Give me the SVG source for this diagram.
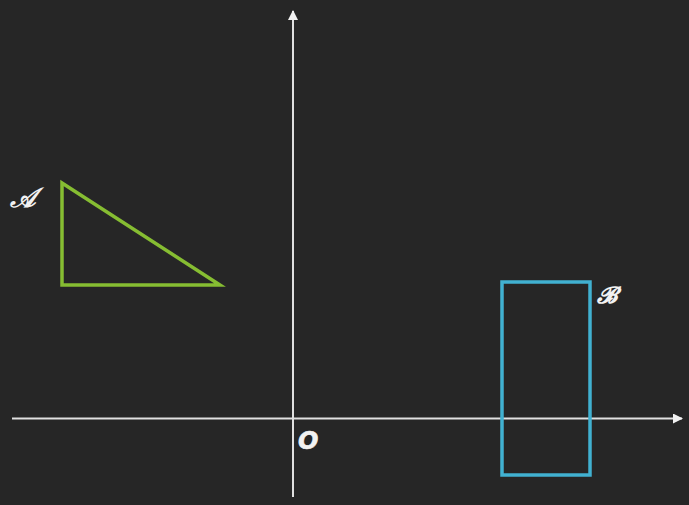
<svg xmlns="http://www.w3.org/2000/svg" width="689" height="505" viewBox="0 0 689 505">
<defs>
<style>
.axis{stroke:#e0e0e0;stroke-width:2;fill:none}
.lbl{fill:#f2f2f2;font-family:"DejaVu Serif","Liberation Serif",serif;font-style:italic;font-weight:bold}
.o{fill:#f2f2f2;font-family:"DejaVu Sans","Liberation Sans",sans-serif;font-style:italic}
</style>
<marker id="ah" viewBox="0 0 10 10" refX="9" refY="5" markerWidth="10" markerHeight="10" markerUnits="userSpaceOnUse" orient="auto">
<path d="M0,0 L10,5 L0,10 Z" fill="#f2f2f2"/>
</marker>
</defs>
<rect width="689" height="505" fill="#262626"/>
<g id="connectors">
<line class="axis" x1="12" y1="418.5" x2="682" y2="418.5" marker-end="url(#ah)"/>
<line class="axis" x1="293" y1="497" x2="293" y2="11" marker-end="url(#ah)"/>
</g>
<g id="A">
<polygon points="62,183 62,285 220,285" fill="none" stroke="#86bd32" stroke-width="3.5"/>
<text class="lbl" x="10" y="207" font-size="27">𝒜</text>
</g>
<g id="B">
<rect x="502" y="282" width="88" height="193" fill="none" stroke="#41b1d1" stroke-width="3.5"/>
<text class="lbl" x="597" y="303" font-size="23">𝓑</text>
</g>
<g id="O">
<text class="o" x="298" y="449" font-size="24" font-weight="600" stroke="#f2f2f2" stroke-width="0.6">O</text>
</g>
</svg>
